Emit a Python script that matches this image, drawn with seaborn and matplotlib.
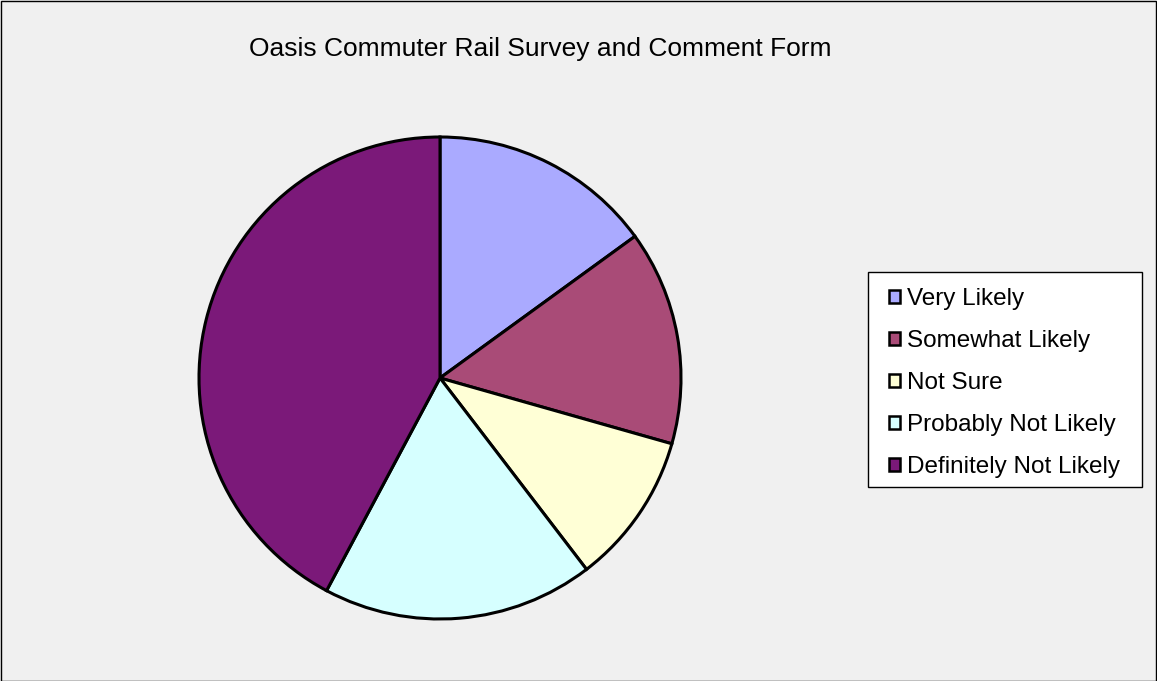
import matplotlib
matplotlib.use("Agg")
import matplotlib.pyplot as plt
from matplotlib.patches import Patch, Rectangle
import seaborn as sns

# Survey responses (share of respondents, %)
categories = ["Very Likely", "Somewhat Likely", "Not Sure",
              "Probably Not Likely", "Definitely Not Likely"]
shares = [15.0, 14.4, 10.2, 18.2, 42.2]
colors = ["#AAAAFF", "#A94B77", "#FFFFD6", "#D6FFFF", "#7B1979"]
title = "Oasis Commuter Rail Survey and Comment Form"

sns.set_style("white")
plt.rcParams["font.family"] = ["Liberation Sans", "DejaVu Sans"]
plt.rcParams["text.color"] = "black"

W, H = 1157, 681
fig = plt.figure(figsize=(W / 100, H / 100), dpi=100, facecolor="#F0F0F0")

# pie axes: centre (440, 378) px, radius 241 px
cx, cy, r = 440, 378, 241
ax = fig.add_axes([(cx - r) / W, 1 - (cy + r) / H, 2 * r / W, 2 * r / H])
ax.set_facecolor("none")
palette = sns.color_palette(colors)
ax.pie(shares, colors=palette, startangle=90, counterclock=False,
       wedgeprops=dict(edgecolor="black", linewidth=2.2))
ax.set_xlim(-1, 1)
ax.set_ylim(-1, 1)
ax.set_aspect("equal")
ax.axis("off")

fig.text(540 / W, 1 - 49 / H, title, ha="center", va="center",
         fontsize=19, color="black")

# legend box
fig.patches.append(Rectangle((868 / W, 1 - 487 / H), 274 / W, 215 / H,
                             transform=fig.transFigure, facecolor="white",
                             edgecolor="black", linewidth=1.0, zorder=0))

handles = [Patch(facecolor=c, edgecolor="black", linewidth=1.8) for c in palette]
leg = fig.legend(handles, categories, loc="upper left",
                 bbox_to_anchor=(889 / W, 1 - 288 / H),
                 fontsize=17.5, frameon=False, labelcolor="black",
                 handlelength=0.45, handleheight=0.45, handletextpad=0.3,
                 labelspacing=0.82, borderpad=0.0, borderaxespad=0.0)

# outer figure border
fig.patches.append(Rectangle((0.5 / W, 0.5 / H), 1 - 1.5 / W, 1 - 1.5 / H,
                             transform=fig.transFigure, fill=False,
                             edgecolor="black", linewidth=1.0))

fig.savefig("out.png", dpi=100, facecolor=fig.get_facecolor())
